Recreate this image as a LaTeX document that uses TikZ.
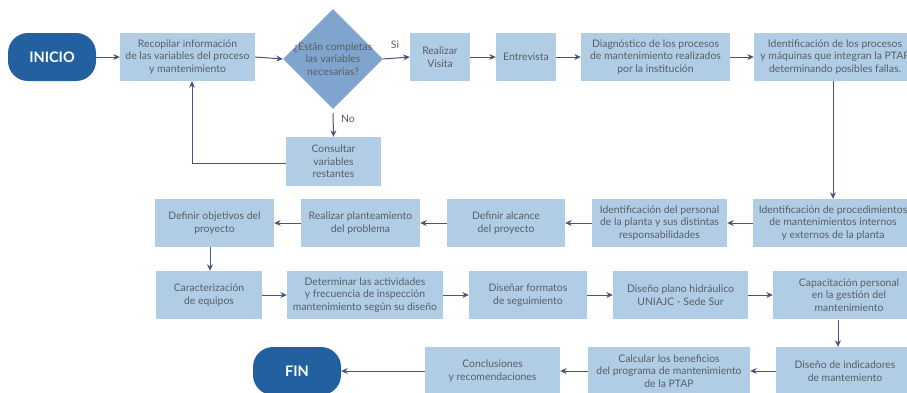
\documentclass[tikz,border=0pt]{standalone}
\usepackage{fontspec}
\setmainfont{Lato}
\usetikzlibrary{shapes.geometric,arrows.meta}
\definecolor{boxc}{HTML}{B1CDE6}
\definecolor{diac}{HTML}{7FA5CE}
\definecolor{endc}{HTML}{22609F}
\definecolor{txtc}{HTML}{585D66}
\definecolor{arrc}{HTML}{46547F}
\tikzset{
  stepbox/.style={draw=none,fill=boxc,text=txtc,align=center,inner sep=0pt,font=\fontsize{10.4}{12.7}\selectfont},
  termbox/.style={fill=endc,rounded corners=20pt,minimum width=88pt,minimum height=48pt,text=white,font=\fontsize{14.5}{17}\selectfont\bfseries,inner sep=0pt},
  flow/.style={draw=arrc,line width=1pt,-{Stealth[length=6.5pt,width=6pt]}},
  lbl/.style={text=txtc,font=\fontsize{10.4}{12}\selectfont,inner sep=0pt}
}
\begin{document}
\begin{tikzpicture}[x=1pt,y=-1pt]
\useasboundingbox (0,0) rectangle (907,392);
\begin{scope}
\clip (0,0) rectangle (907,392);
% row 1
\node[termbox] (ini) at (52,57) {INICIO};
\node[stepbox,minimum width=135pt,minimum height=48pt] (rec) at (187.5,57) {Recopilar información\\de las variables del proceso\\y mantenimiento};
\node[diamond,fill=diac,minimum width=100pt,minimum height=100pt,inner sep=0pt] (dia) at (333,59) {};
\node[text=txtc,align=center,inner sep=0pt,font=\fontsize{10.4}{12.7}\selectfont] (diat) at (333,59) {¿Están completas\\las variables\\necesarias?};
\node[stepbox,minimum width=60pt,minimum height=48pt] (vis) at (440,57) {Realizar\\Visita};
\node[stepbox,minimum width=60pt,minimum height=48pt] (ent) at (526,57) {Entrevista};
\node[stepbox,minimum width=149pt,minimum height=48pt] (dig) at (655.5,57) {Diagnóstico de los procesos\\de mantenimiento realizados\\por la institución};
\node[stepbox,minimum width=162pt,minimum height=48pt] (idp) at (835,57) {Identificación de los procesos\\y máquinas que integran la PTAP\\determinando posibles fallas.};
\node[stepbox,minimum width=95pt,minimum height=49pt] (con) at (333.5,161.5) {Consultar\\variables\\restantes};
% row 2
\node[stepbox,minimum width=160pt,minimum height=48pt] (proc) at (833,223) {Identificación de procedimientos\\de mantenimientos internos\\y externos de la planta};
\node[stepbox,minimum width=135pt,minimum height=48pt] (pers) at (659.5,223) {Identificación del personal\\de la planta y sus distintas\\responsabilidades};
\node[stepbox,minimum width=118pt,minimum height=48pt] (alc) at (506,223) {Definir alcance\\del proyecto};
\node[stepbox,minimum width=119pt,minimum height=48pt] (plan) at (360.5,223) {Realizar planteamiento\\del problema};
\node[stepbox,minimum width=119pt,minimum height=48pt] (obj) at (214.5,223) {Definir objetivos del\\proyecto};
% row 3
\node[stepbox,minimum width=106pt,minimum height=48pt] (car) at (209,295) {Caracterización\\de equipos};
\node[stepbox,minimum width=156pt,minimum height=48pt] (det) at (365,295) {Determinar las actividades\\y frecuencia de inspección\\mantenimiento según su diseño};
\node[stepbox,minimum width=118pt,minimum height=48pt] (fmt) at (528,295) {Diseñar formatos\\de seguimiento};
\node[stepbox,minimum width=135pt,minimum height=48pt] (hid) at (680.5,295) {Diseño plano hidráulico\\UNIAJC - Sede Sur};
\node[stepbox,minimum width=152pt,minimum height=48pt] (cap) at (849,295) {Capacitación personal\\en la gestión del\\mantenimiento};
% row 4
\node[stepbox,minimum width=138pt,minimum height=48pt] (ind) at (845,371) {Diseño de indicadores\\de mantemiento};
\node[stepbox,minimum width=162pt,minimum height=48pt] (cal) at (669,371) {Calcular los beneficios\\del programa de mantenimiento\\de la PTAP};
\node[stepbox,minimum width=135pt,minimum height=48pt] (conc) at (492.5,371) {Conclusiones\\y recomendaciones};
\node[termbox] (fin) at (297,371) {FIN};
\end{scope}
% connectors
\draw[flow] (ini.east) -- (rec.west);
\draw[flow] (rec.east) -- (dia.west);
\draw[flow] (dia.east) -- (vis.west);
\node[lbl] (si) at (395,45) {Si};
\draw[flow] (vis.east) -- (ent.west);
\draw[flow] (ent.east) -- (dig.west);
\draw[flow] (dig.east) -- (idp.west);
\draw[flow] ([yshift=-4pt]dia.south) -- (con.north);
\node[lbl] (no) at (348,119) {No};
\coordinate (back) at (192,163);
\draw[flow] (con.west |- back) -- (back) -- (back |- rec.south);
\draw[flow] (idp.south -| proc.north) -- (proc.north);
\draw[flow] (proc.west) -- (pers.east);
\draw[flow] (pers.west) -- (alc.east);
\draw[flow] (alc.west) -- (plan.east);
\draw[flow] (plan.west) -- (obj.east);
\coordinate (oc) at (210,247);
\draw[flow] (oc) -- (oc |- car.north);
\draw[flow] (car.east) -- (det.west);
\draw[flow] (det.east) -- (fmt.west);
\draw[flow] (fmt.east) -- (hid.west);
\draw[flow] (hid.east) -- (cap.west);
\coordinate (cc) at (838,320);
\draw[flow] (cc) -- (cc |- ind.north);
\draw[flow] (ind.west) -- (cal.east);
\draw[flow] (cal.west) -- (conc.east);
\draw[flow] (conc.west) -- (fin.east);
\end{tikzpicture}
\end{document}
